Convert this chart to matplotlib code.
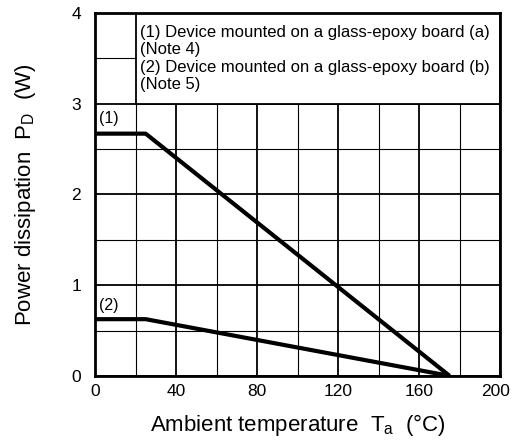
import matplotlib as mpl
import matplotlib.pyplot as plt
import matplotlib.transforms as mtransforms
from matplotlib.patches import Rectangle
import numpy as np

plt.rcParams['font.family'] = ['Liberation Sans', 'DejaVu Sans']
plt.rcParams['mathtext.fontset'] = 'custom'
plt.rcParams['mathtext.rm'] = 'Liberation Sans'

# derating curves (Ta in degC, PD in W)
ta1 = [0, 25, 175]
pd1 = [2.67, 2.67, 0]
ta2 = [0, 25, 175]
pd2 = [0.625, 0.625, 0]

legend_lines = ["(1) Device mounted on a glass-epoxy board (a)",
                "(Note 4)",
                "(2) Device mounted on a glass-epoxy board (b)",
                "(Note 5)"]

fig = plt.figure(figsize=(5.11, 4.48), dpi=100)
ax = fig.add_axes([0.186, 0.161, 0.793, 0.81])

ax.set_xlim(0, 200)
ax.set_ylim(0, 4)
ax.set_xticks(np.arange(0, 201, 40))
ax.set_xticks(np.arange(20, 200, 40), minor=True)
ax.set_yticks(np.arange(0, 5, 1))
ax.set_yticks(np.arange(0.5, 4, 1), minor=True)
ax.grid(True, which='major', color='black', lw=1.3)
ax.grid(True, which='minor', color='black', lw=0.8)
ax.set_axisbelow(True)
ax.tick_params(which='both', length=0, labelsize=12.5)
ax.tick_params(axis='y', pad=10)
ax.tick_params(axis='x', pad=6)
for s in ax.spines.values():
    s.set_linewidth(2)

# nudge the last x label so it stays inside the figure
last = ax.get_xticklabels()[-1]
last.set_transform(last.get_transform() +
                   mtransforms.ScaledTranslation(-5 / 100, 0, fig.dpi_scale_trans))

ax.plot(ta1, pd1, color='black', lw=3, solid_capstyle='butt', zorder=3)
ax.plot(ta2, pd2, color='black', lw=3, solid_capstyle='butt', zorder=3)
ax.text(7, 2.84, "(1)", fontsize=11.5, ha='center', va='center', zorder=4)
ax.text(7, 0.78, "(2)", fontsize=11.5, ha='center', va='center', zorder=4)

ax.add_patch(Rectangle((20, 3), 180, 1, facecolor='white', edgecolor='black',
                       lw=1.3, zorder=2.5))
ax.text(22, 3.5, "\n".join(legend_lines), fontsize=12, ha='left', va='center',
        linespacing=1.2, zorder=4)

ax.set_xlabel("Ambient temperature  $\\mathregular{T_a}$  (°C)", fontsize=16, labelpad=9)
ax.set_ylabel("Power dissipation  $\\mathregular{P_D}$  (W)", fontsize=16, labelpad=24)

fig.savefig("out.png", dpi=100)
